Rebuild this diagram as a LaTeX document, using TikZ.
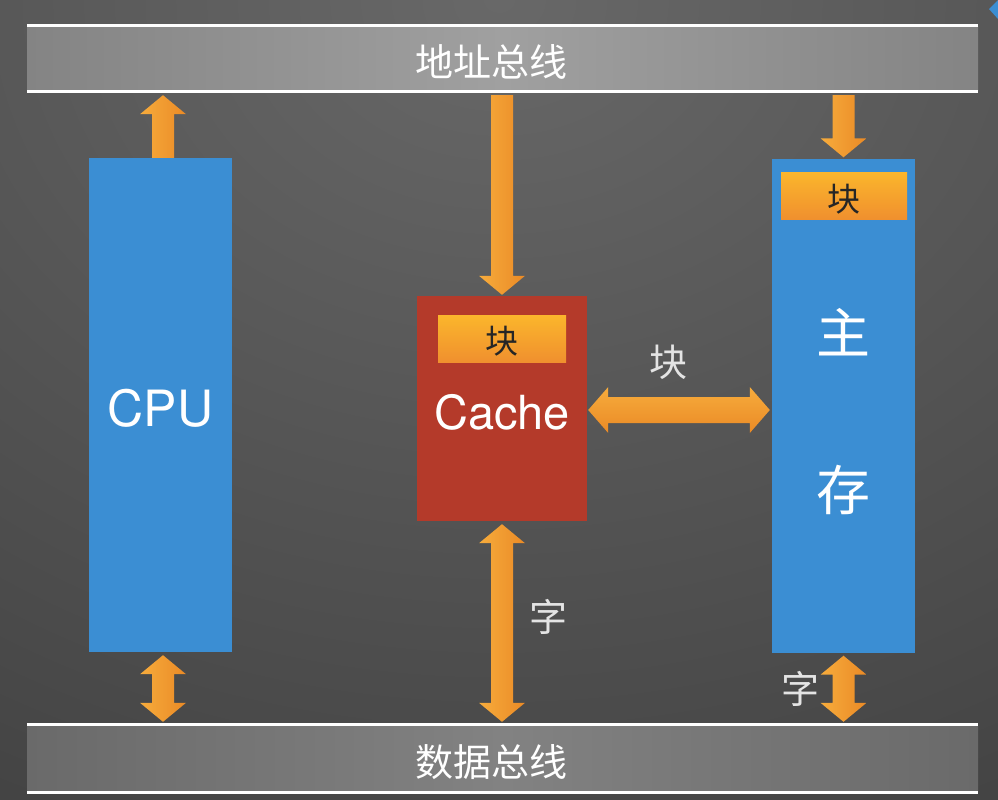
\documentclass[tikz,border=0pt]{standalone}
\usepackage{fontspec}
\setmainfont{TeX Gyre Heros}
\newfontfamily\cjk{Noto Sans CJK SC}
\usetikzlibrary{calc}
\definecolor{bgIn}{HTML}{686868}
\definecolor{bgOut}{HTML}{272727}
\definecolor{busEdge}{HTML}{848484}
\definecolor{busMid}{HTML}{A0A0A0}
\definecolor{busEdgeB}{HTML}{6A6A6A}
\definecolor{busMidB}{HTML}{828282}
\definecolor{memBlue}{HTML}{3B8ED3}
\definecolor{cacheRed}{HTML}{B43A2A}
\definecolor{arrL}{HTML}{F7AC3C}
\definecolor{arrR}{HTML}{EA8A26}
\definecolor{blkT}{HTML}{FBB62C}
\definecolor{blkB}{HTML}{F0902E}
\definecolor{lblGray}{HTML}{E4E4E4}
\newcommand\myUpArrow[2]{%
  \shade[arrowfill] ($(#1)+(-11,0)$) -- ($(#2)+(-11,19)$) -- ($(#2)+(-23,19)$) -- (#2)
    -- ($(#2)+(23,19)$) -- ($(#2)+(11,19)$) -- ($(#1)+(11,0)$) -- cycle;}
\newcommand\myDownArrow[2]{%
  \shade[arrowfill] ($(#1)+(-11,0)$) -- ($(#2)+(-11,-19)$) -- ($(#2)+(-23,-19)$) -- (#2)
    -- ($(#2)+(23,-19)$) -- ($(#2)+(11,-19)$) -- ($(#1)+(11,0)$) -- cycle;}
\newcommand\myVDouble[2]{%
  \shade[arrowfill] ($(#1)+(-11,19)$) -- ($(#1)+(-23,19)$) -- (#1) -- ($(#1)+(23,19)$) -- ($(#1)+(11,19)$)
    -- ($(#2)+(11,-19)$) -- ($(#2)+(23,-19)$) -- (#2) -- ($(#2)+(-23,-19)$) -- ($(#2)+(-11,-19)$) -- cycle;}
\newcommand\myHDouble[2]{%
  \shade[harrowfill] ($(#1)+(20,-13)$) -- ($(#1)+(20,-23)$) -- (#1) -- ($(#1)+(20,23)$) -- ($(#1)+(20,13)$)
    -- ($(#2)+(-20,13)$) -- ($(#2)+(-20,23)$) -- (#2) -- ($(#2)+(-20,-23)$) -- ($(#2)+(-20,-13)$) -- cycle;}
\begin{document}
\begin{tikzpicture}[x=1pt,y=-1pt,
  bus/.style={rectangle, inner sep=0pt, minimum width=951pt},
  bustext/.style={text=white, font=\cjk\fontsize{38}{44}\selectfont, inner sep=0pt},
  busline/.style={white, line width=3pt},
  unit/.style={rectangle, inner sep=0pt, minimum width=143pt, minimum height=494pt, fill=memBlue,
    text=white},
  blockbox/.style={rectangle, inner sep=0pt, minimum height=47pt, top color=blkT, bottom color=blkB},
  blocktext/.style={text=black!85, font=\cjk\fontsize{33}{38}\selectfont, inner sep=0pt},
  arrowfill/.style={left color=arrL, right color=arrR},
  harrowfill/.style={top color=arrL, bottom color=arrR},
  lbl/.style={text=lblGray, font=\cjk\fontsize{38}{44}\selectfont, inner sep=0pt}
]
\useasboundingbox (0,0) rectangle (998,800);
\begin{scope}
  \clip (0,0) rectangle (998,800);
  \shade[inner color=bgIn, outer color=bgOut] (499,0) ellipse [x radius=2000, y radius=1600];
\end{scope}
% top-right fragment
\fill[memBlue] (989,9) -- (998,0) -- (998,19) -- cycle;

% buses
\node[bus, minimum height=63pt, left color=busEdge, right color=busEdge, middle color=busMid]
  (addr) at (502.5,58.5) {};
\node[bustext] (addrText) at ($(addr.center)+(-11,3.5)$) {地址总线};
\draw[busline] ($(addr.north west)+(0,-1.5)$) -- ($(addr.north east)+(0,-1.5)$);
\draw[busline] ($(addr.south west)+(0,1.5)$) -- ($(addr.south east)+(0,1.5)$);
\node[bus, minimum height=65pt, left color=busEdgeB, right color=busEdgeB, middle color=busMidB]
  (data) at (502.5,758.5) {};
\node[bustext] (dataText) at ($(data.center)+(-11,3.5)$) {数据总线};
\draw[busline] ($(data.north west)+(0,-1.5)$) -- ($(data.north east)+(0,-1.5)$);
\draw[busline] ($(data.south west)+(0,1.5)$) -- ($(data.south east)+(0,1.5)$);

% units
\node[unit] (cpu) at (160.5,405) {};
\node[text=white, font=\fontsize{50}{58}\selectfont, inner sep=0pt] (cpuText) at ($(cpu.center)+(0,3)$) {CPU};
\node[rectangle, inner sep=0pt, minimum width=170pt, minimum height=225pt, fill=cacheRed] (cache) at (502,408.5) {};
\node[text=white, font=\fontsize{47}{54}\selectfont, inner sep=0pt] (cacheText) at ($(cache.center)+(0,4)$) {Cache};
\node[blockbox, minimum width=128pt] (cblk) at (502,338.5) {};
\node[blocktext] (cblkText) at ($(cblk.center)+(0,3)$) {块};
\node[unit] (mem) at (843.5,405.5) {};
\node[blockbox, minimum width=126pt] (mblk) at (844,195.5) {};
\node[blocktext] (mblkText) at ($(mblk.center)+(0,4)$) {块};
\node[text=white, font=\cjk\fontsize{54}{60}\selectfont, inner sep=0pt] (zhu) at ($(mem.center)+(0,-73)$) {主};
\node[text=white, font=\cjk\fontsize{54}{60}\selectfont, inner sep=0pt] (cun) at ($(mem.center)+(0,84)$) {存};

% coordinates for arrows
\coordinate (cpuUpTail) at ($(cpu.north)+(2.5,0)$);
\coordinate (cpuUpTip) at ($(cpu.north |- addr.south)+(2.5,5)$);
\coordinate (cpuDnTop) at ($(cpu.south)+(2.5,3)$);
\coordinate (cpuDnBot) at ($(cpu.south |- data.north)+(2.5,-4)$);
\coordinate (acTail) at ($(cache.north |- addr.south)+(0,5)$);
\coordinate (acTip) at ($(cache.north)+(0,-1)$);
\coordinate (amTail) at ($(mem.north |- addr.south)+(0,5)$);
\coordinate (amTip) at ($(mem.north)+(0,-1)$);
\coordinate (cdTop) at ($(cache.south)+(0,3)$);
\coordinate (cdBot) at ($(cache.south |- data.north)+(0,-4)$);
\coordinate (mdTop) at ($(mem.south)+(0,3)$);
\coordinate (mdBot) at ($(mem.south |- data.north)+(0,-4)$);
\coordinate (hL) at ($(cache.east)+(1,1.5)$);
\coordinate (hR) at ($(mem.west |- hL)+(-2,0)$);

% arrows
\myUpArrow{cpuUpTail}{cpuUpTip}
\myVDouble{cpuDnTop}{cpuDnBot}
\myDownArrow{acTail}{acTip}
\myDownArrow{amTail}{amTip}
\myVDouble{cdTop}{cdBot}
\myVDouble{mdTop}{mdBot}
\myHDouble{hL}{hR}

% labels
\node[lbl] (lblBlock) at ($($(hL)!0.5!(hR)$)+(-11,-48)$) {块};
\node[lbl] (lblWordC) at ($(cdTop)!0.5!(cdBot)+(46,-6)$) {字};
\node[lbl] (lblWordM) at ($(mdTop)+(-43,33)$) {字};
\end{tikzpicture}
\end{document}
